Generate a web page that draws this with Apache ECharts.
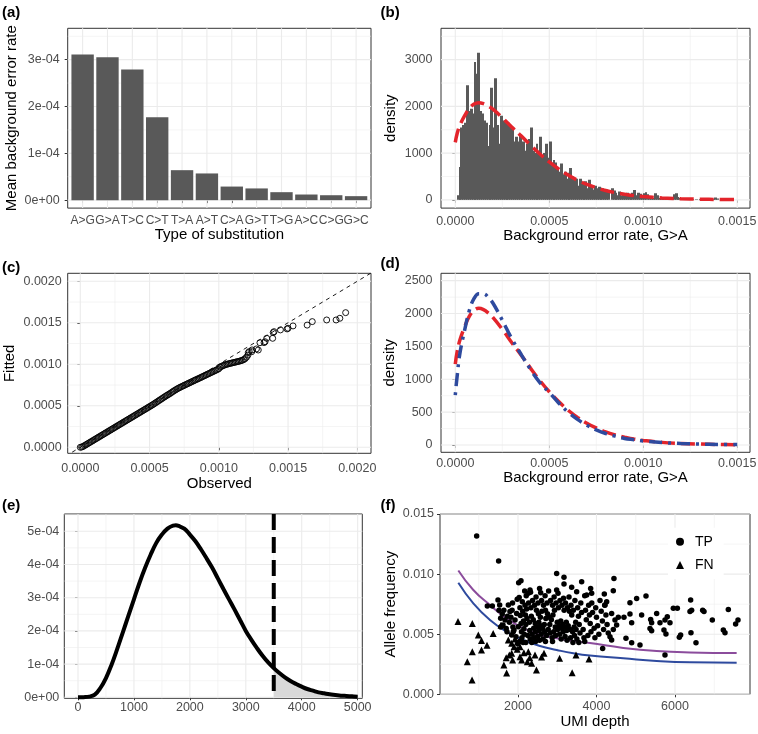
<!DOCTYPE html>
<html><head><meta charset="utf-8">
<script src="https://cdn.jsdelivr.net/npm/echarts@6/dist/echarts.min.js"></script>
<style>html,body{margin:0;padding:0;background:#fff}#c{width:758px;height:734px}</style>
</head><body><div id="c"></div>
<script>
// ---------------- DATA ----------------
// (a) mean background error rate per substitution type
const subTypes = ['A>G','G>A','T>C','C>T','T>A','A>T','C>A','G>T','T>G','A>C','C>G','G>C'];
const subRates = [3.11e-4,3.05e-4,2.79e-4,1.77e-4,0.64e-4,0.57e-4,0.29e-4,0.25e-4,0.17e-4,0.12e-4,0.105e-4,0.085e-4];
const aYTicks = [0,1e-4,2e-4,3e-4];
const aYLabels = ['0e+00','1e-04','2e-04','3e-04'];

// (b) histogram of background error rate G>A (density), bins of width 1e-5 starting at 1e-5
const histStart = 0.00001, histWidth = 0.00001;
const histDensity = [
100,700,1550,1600,1650,2450,1900,1950,1850,2950,
2700,3150,1900,1850,1700,1650,1150,1600,2400,1550,
2600,1600,1200,1800,1700,1700,1300,1650,1600,1500,
1250,1350,1250,1400,1000,1250,1050,1200,1300,1550,
1050,1000,1200,1050,1350,900,1000,1200,900,1250,
750,850,800,700,600,780,550,600,450,580,
680,500,450,450,300,450,350,320,400,250,
430,300,220,300,250,280,200,250,180,220,
150,0,250,200,150,100,180,100,130,90,
150,80,110,150,210,100,150,130,100,140,
160,120,60,80,40,140,100,40,60,30,
50,20,40,0,30,120,140,60,40,20,
0,30,20,0,10,20,0,10,0,20,
0,10,0,20,10,0,20,50,30,0,
10,20,10,20];
// fitted densities (b)(d)
const fitX    = [0,0.00001,0.000025,0.00005,0.000075,0.0001,0.000125,0.00015,0.000175,0.0002,0.00025,0.0003,0.00035,0.0004,0.00045,0.0005,0.00055,0.0006,0.00065,0.0007,0.00075,0.0008,0.00085,0.0009,0.00095,0.001,0.0011,0.0012,0.0013,0.0014,0.0015];
const fitRed  = [1230,1420,1600,1800,1960,2050,2080,2060,2010,1940,1760,1560,1370,1170,980,810,660,530,420,330,260,200,155,120,90,70,40,24,14,8,5];
const fitBlue = [760,1050,1400,1750,2050,2230,2300,2300,2250,2160,1900,1620,1380,1150,950,800,640,500,390,300,230,175,135,100,80,62,38,23,14,9,6];
const bTicksX = [0,0.0005,0.001,0.0015], bLabelsX = ['0.0000','0.0005','0.0010','0.0015'];
const bTicksY = [0,1000,2000,3000], bLabelsY = ['0','1000','2000','3000'];
const dTicksY = [0,500,1000,1500,2000,2500], dLabelsY = ['0','500','1000','1500','2000','2500'];

// (c) observed vs fitted quantiles, in units of 1e-5
const qqObs = [0,1,2,3,4,5,6,7,8,9,10,11,12,13,14,15,16,17,18,19,20,21,22,23,24,25,26,27,28,29,30,31,32,33,34,35,36,37,38,39,40,41,42,43,44,45,46,47,48,49,50,51,52,53,54,55,56,57,58,59,60,61,62,63,64,65,66,67,68,69,70,71,72,73,74,75,76,77,78,79,80,81,82,83,84,85,86,87,88,89,90,91,92,93,94,95,96,97,98,99,100,101,102,103,104,105,106,107,108,109,110,111,112,113,114,115,116,117,118,119,120,121,
121.3,122,123.8,124,127.2,128.5,129.7,132.7,133.4,134.6,138.9,139.3,139.9,144.5,149.3,150,153.6,163.8,167.5,177.9,184.7,187.4,191.6];
const qqFit = [0,0.3,1,2,3,4,5,6,7,8,9,10,11,12,13,14,15,16,17,18,19,20,21,22,23,24,25,26,27,28,29,30,31,32,33,34,35,36,37,38,39,40,41,42,43,44,45,46,47,48,49,50,51,52.1,53.2,54.3,55.4,56.5,57.6,58.7,59.8,60.9,62,63,64,65,66.2,67.3,68.4,69.4,70.4,71.3,72.2,73,73.8,74.6,75.4,76.2,77,77.8,78.6,79.4,80.2,81,81.8,82.5,83.3,84.1,84.9,85.7,86.5,87.3,88.1,88.9,89.7,90.5,91.3,92.1,92.9,93.7,94.6,96.5,97.5,98.3,99,99.6,100.1,100.6,101,101.4,101.8,102.2,102.6,103,103.4,103.8,104.3,104.9,105.6,106.8,108.5,111,
114,115.3,115.2,117.3,118.5,117.2,126,126.1,127.2,131.3,131.3,138.2,139.3,141.4,142.6,143.4,146.2,147.2,151.4,153.4,153.4,155.4,162.2];
const qqUnit = 1e-5;
const cTicks = [0,0.0005,0.001,0.0015,0.002], cLabels = ['0.0000','0.0005','0.0010','0.0015','0.0020'];

// (e) density curve, threshold at 3500 (density in units of 1e-4)
const eX = [0,100,200,300,400,500,600,700,800,900,1000,1100,1200,1300,1400,1500,1600,1700,1750,1800,1900,2000,2100,2200,2300,2400,2500,2600,2700,2800,2900,3000,3100,3200,3300,3400,3500,3600,3700,3800,3900,4000,4100,4200,4300,4400,4500,4600,4700,4800,4900,5000];
const eY = [0,0.005,0.02,0.08,0.28,0.58,0.98,1.45,1.95,2.45,2.95,3.45,3.9,4.3,4.65,4.9,5.08,5.17,5.18,5.16,5.08,4.9,4.7,4.45,4.18,3.9,3.58,3.26,2.95,2.64,2.32,2.0,1.73,1.48,1.25,1.05,0.88,0.73,0.6,0.49,0.4,0.32,0.25,0.2,0.15,0.12,0.09,0.07,0.05,0.04,0.03,0.02];
const eUnit = 1e-4;
const eCut = 3500;
const eTicksX = [0,1000,2000,3000,4000,5000], eLabelsX = ['0','1000','2000','3000','4000','5000'];
const eTicksY = [0,1e-4,2e-4,3e-4,4e-4,5e-4], eLabelsY = ['0e+00','1e-04','2e-04','3e-04','4e-04','5e-04'];

// (f) UMI depth vs allele frequency
const tpPoints = [
[947,0.01317],[1507,0.01109],[2985,0.01006],[3172,0.00973],[3172,0.00917],[3622,0.00937],[4445,0.00964],[2076,0.00945],[2017,0.00928],[3851,0.00881],[3877,0.0084],[2306,0.00868],[2578,0.00845],[2263,0.0084],[2985,0.00868],[3367,0.0089],[3495,0.00854],[3750,0.00826],[4428,0.00862],[4199,0.00835],
[1219,0.00734],[1346,0.00734],[1490,0.00784],[1533,0.00743],[1516,0.0070],[1600,0.00668],[1558,0.00632],[1669,0.00618],[1618,0.00577],[1560,0.0056],[1700,0.00548],[1754,0.00743],[1796,0.00688],[1730,0.0065],[1780,0.006],[1820,0.0064],[1850,0.007],[1870,0.0056],[1880,0.0052],[1860,0.0076],[1640,0.007],[1720,0.0052],
[1924,0.00618],[1949,0.00479],[1966,0.00673],[1980,0.0079],[2008,0.00563],[1898,0.00535],[1839,0.00493],[2030,0.00805],[2050,0.0072],[2060,0.00655],[2080,0.0059],[2090,0.0052],[2100,0.0047],[2110,0.0077],[2120,0.0069],[2140,0.0061],[2150,0.00545],[2160,0.005],[2170,0.0086],[2180,0.0074],[2190,0.0066],[2200,0.0058],[2200,0.0043],[2130,0.0043],[2040,0.0044],[1990,0.0042],
[2210,0.0082],[2220,0.0071],[2230,0.0063],[2250,0.0049],[2270,0.0076],[2290,0.006],[2300,0.0053],[2310,0.0046],[2320,0.0085],[2330,0.0072],[2340,0.0065],[2360,0.005],[2370,0.0078],[2390,0.0062],[2400,0.0055],[2410,0.0047],[2420,0.0074],[2440,0.0059],[2450,0.0052],[2460,0.0081],[2470,0.007],[2490,0.0056],[2500,0.0048],[2350,0.0043],[2450,0.0044],
[2510,0.0076],[2520,0.0067],[2530,0.006],[2540,0.0053],[2550,0.0088],[2570,0.0064],[2580,0.0057],[2590,0.005],[2600,0.0078],[2610,0.0069],[2630,0.0055],[2640,0.0046],[2650,0.0074],[2670,0.0058],[2680,0.0052],[2690,0.0082],[2700,0.007],[2710,0.0063],[2730,0.0049],[2740,0.0076],[2750,0.0067],[2770,0.0054],[2780,0.0086],[2800,0.0064],[2550,0.0045],[2700,0.0044],
[2810,0.0058],[2820,0.0051],[2830,0.0078],[2850,0.0062],[2870,0.0047],[2880,0.0074],[2890,0.0066],[2910,0.0052],[2920,0.0081],[2930,0.007],[2950,0.0056],[2960,0.0049],[2970,0.0076],[3000,0.006],[3010,0.0054],[3020,0.0084],[3030,0.0072],[3050,0.0057],[3060,0.005],[3070,0.0078],[3090,0.0061],[3100,0.0046],[2880,0.0044],
[3110,0.0055],[3120,0.0074],[3140,0.0058],[3150,0.0052],[3160,0.008],[3175,0.007],[3190,0.0056],[3200,0.0048],[3210,0.0076],[3230,0.006],[3240,0.0053],[3250,0.0045],[3260,0.0072],[3280,0.0057],[3300,0.0081],[3310,0.0069],[3330,0.0054],[3340,0.0047],[3350,0.0074],[3370,0.0066],[3390,0.0052],[3400,0.0043],
[3410,0.007],[3430,0.0056],[3440,0.0049],[3450,0.0078],[3470,0.006],[3480,0.0054],[3500,0.0046],[3520,0.0072],[3540,0.0065],[3560,0.0058],[3580,0.0051],[3600,0.0076],[3620,0.0068],[3660,0.0054],[3680,0.0047],[3700,0.0082],[3720,0.007],[3740,0.0062],[3780,0.0049],[3800,0.0074],[3550,0.0043],[3700,0.0044],
[3820,0.0066],[3840,0.0059],[3860,0.0052],[3880,0.0076],[3900,0.0068],[3940,0.0055],[3960,0.0047],[3980,0.0072],[4000,0.0064],[4030,0.0057],[4060,0.005],[4090,0.0078],[4120,0.0069],[4150,0.0061],[4157,0.00382],[4180,0.0054],[4210,0.0074],[4240,0.0066],[4259,0.00771],[4270,0.0058],[4300,0.0051],[4216,0.00743],
[4344,0.00479],[4386,0.00452],[4386,0.00673],[4428,0.0054],[4471,0.00618],[4513,0.00576],[4556,0.0064],[4700,0.0064],[4751,0.00466],[4853,0.00668],[4853,0.00762],[4896,0.00595],[4896,0.00429],[5023,0.00798],[5108,0.0041],[5150,0.00659],[5261,0.00818],
[5363,0.00548],[5380,0.00623],[5405,0.00595],[5405,0.00529],[5533,0.00673],[5618,0.00595],[5719,0.00535],[5745,0.00618],[5745,0.00326],[5770,0.00502],[5804,0.00645],[5872,0.00595],[5957,0.00715],[6060,0.00715],[6110,0.00474],[6144,0.00493],[6382,0.00688],[6399,0.00784],[6407,0.00513],[6424,0.0070],[6535,0.00429],[6705,0.0070],[6739,0.00688],[6951,0.00618],[7231,0.00535],[7274,0.00513],[7359,0.00706],[7545,0.00585],[7605,0.00618]
];
const fnPoints = [
[471,0.00605],[836,0.00588],[989,0.00494],[1070,0.00448],[1210,0.00408],[1070,0.00369],[836,0.00355],[709,0.00271],[830,0.00119],[1368,0.00505],[1567,0.00576],[1754,0.00452],[1839,0.00424],[1924,0.0046],[1640,0.00244],[1711,0.00178],[1779,0.00327],[1864,0.00286],[2051,0.00313],[2093,0.00286],[2238,0.00271],[2348,0.00258],[2470,0.00202],[2433,0.00327],[2662,0.00341],[3060,0.00299],[3380,0.0018],[3478,0.00327],[3809,0.00293],[2051,0.00396],[1839,0.00341],[2263,0.00355],[1980,0.00375],[2150,0.00345],[1700,0.00305],[1900,0.00395],[2300,0.00305],[2600,0.0031]
];
const curveX      = [480,862,1287,1711,2136,2561,2985,3410,3834,4683,5533,6382,7571];
const curvePurple = [0.0103,0.00868,0.00743,0.00632,0.00549,0.00493,0.00466,0.00443,0.00426,0.00386,0.0036,0.00348,0.00343];
const curveBlue   = [0.00928,0.00757,0.00618,0.00521,0.00452,0.00402,0.00369,0.00341,0.00322,0.00299,0.00277,0.00266,0.00263];
const fTicksX = [2000,4000,6000], fLabelsX = ['2000','4000','6000'];
const fTicksY = [0,0.005,0.01,0.015], fLabelsY = ['0.000','0.005','0.010','0.015'];

// ---------------- CHART ----------------
const FONT = '"Liberation Sans", Arial, Helvetica, sans-serif';
const TICK_FS = 12.5, TITLE_FS = 15;
const grids = [
  {left:67.7, top:28.3, width:303.3, height:179.8},
  {left:441,  top:28.3, width:309,   height:179.8},
  {left:67.7, top:273.3,width:303.3, height:180},
  {left:441,  top:273.3,width:309,   height:179},
  {left:64.3, top:514,  width:298,   height:184.3},
  {left:440,  top:514,  width:310,   height:180.3}
];
const ranges = {
  ax:[0.4,12.6], ay:[-0.000017,0.000367],
  bx:[-0.000076,0.001568], by:[-177,3671],
  cx:[-0.000091,0.002099], cy:[-0.0000723,0.002096],
  dx:[-0.000076,0.001568], dy:[-111,2612],
  ex:[-245,5083], ey:[-0.000003,0.000552],
  fx:[13,7911], fy:[0,0.015]
};
function fmt(ticks, labels, span){
  return v => { const i = ticks.findIndex(t => Math.abs(t - v) < span*1e-7); return i >= 0 ? labels[i] : ''; };
}
function axis(gi, r, ticks, labels, o){
  o = o || {};
  return {
    type:'value', gridIndex:gi, min:r[0], max:r[1],
    axisLine:{show:false}, splitLine:{show:false}, minorSplitLine:{show:false},
    axisTick:{show:true, inside:false, length:3, lineStyle:{color:'#333333', width:1}, customValues:ticks},
    axisLabel:{customValues:ticks, formatter:fmt(ticks, labels, r[1]-r[0]), color:'#4D4D4D', fontSize:o.fs||TICK_FS, fontFamily:FONT, margin:o.margin,
      showMinLabel:true, showMaxLabel:true, hideOverlap:false},
    name:o.name||'', nameLocation:'middle', nameGap:o.gap||0,
    nameTextStyle:{fontSize:TITLE_FS, color:'#000', fontFamily:FONT}
  };
}
function gridLines(gi, xMaj, xMin, yMaj, yMin){
  const data = [];
  xMaj.forEach(v => data.push([0, v, 1])); xMin.forEach(v => data.push([0, v, 0]));
  yMaj.forEach(v => data.push([1, v, 1])); yMin.forEach(v => data.push([1, v, 0]));
  return {
    type:'custom', xAxisIndex:gi, yAxisIndex:gi, z:1, silent:true, data:data,
    encode:{x:-1, y:-1},
    renderItem:(params, api) => {
      const cs = params.coordSys;
      const dim = api.value(0), v = api.value(1), major = api.value(2);
      let shape;
      if (dim === 0) {
        const x = api.coord([v, ranges.fy[0]])[0];
        shape = {x1:x, y1:cs.y, x2:x, y2:cs.y+cs.height};
      } else {
        const y = api.coord([ranges.fx[0], v])[1];
        shape = {x1:cs.x, y1:y, x2:cs.x+cs.width, y2:y};
      }
      return {type:'line', shape, style:{stroke:'#EBEBEB', lineWidth: major ? 1.1 : 0.55}};
    }
  };
}
const aX = subTypes.map((_, i) => i + 1);

const xAxes = [
  axis(0, ranges.ax, aX, subTypes, {fs:12, margin:6.5, name:'Type of substitution', gap:19}),
  axis(1, ranges.bx, bTicksX, bLabelsX, {margin:6.5, name:'Background error rate, G>A', gap:19}),
  axis(2, ranges.cx, cTicks, cLabels, {margin:9, name:'Observed', gap:22.5}),
  axis(3, ranges.dx, bTicksX, bLabelsX, {margin:4.5, name:'Background error rate, G>A', gap:15}),
  axis(4, ranges.ex, eTicksX, eLabelsX, {margin:3}),
  axis(5, ranges.fx, fTicksX, fLabelsX, {margin:6, name:'UMI depth', gap:20.5})
];
const yAxes = [
  axis(0, ranges.ay, aYTicks, aYLabels, {margin:8, name:'Mean background error rate', gap:48}),
  axis(1, ranges.by, bTicksY, bLabelsY, {margin:8.5, name:'density', gap:43}),
  axis(2, ranges.cy, cTicks, cLabels, {margin:6, name:'Fitted', gap:50}),
  axis(3, ranges.dy, dTicksY, dLabelsY, {margin:8.5, name:'density', gap:44}),
  axis(4, ranges.ey, eTicksY, eLabelsY, {margin:5}),
  axis(5, ranges.fy, fTicksY, fLabelsY, {margin:6, name:'Allele frequency', gap:39})
];

const barW = 0.9 * grids[0].width / (ranges.ax[1] - ranges.ax[0]);
const pairs = (xs, ys, k) => xs.map((x, i) => [x, ys[i] * (k || 1)]);
const eTailX = eX.filter(x => x >= eCut);
const eTailY = eY.filter((_, i) => eX[i] >= eCut);

const series = [
  // grid lines
  gridLines(0, aX, [], aYTicks, [0.5e-4,1.5e-4,2.5e-4,3.5e-4]),
  gridLines(1, bTicksX, [0.00025,0.00075,0.00125], bTicksY, [500,1500,2500,3500]),
  gridLines(2, cTicks, [0.00025,0.00075,0.00125,0.00175], cTicks, [0.00025,0.00075,0.00125,0.00175]),
  gridLines(3, bTicksX, [0.00025,0.00075,0.00125], dTicksY, [250,750,1250,1750,2250]),
  gridLines(4, eTicksX, [500,1500,2500,3500,4500], eTicksY, [0.5e-4,1.5e-4,2.5e-4,3.5e-4,4.5e-4,5.5e-4]),
  gridLines(5, fTicksX, [1000,3000,5000,7000], fTicksY, [0.0025,0.0075,0.0125]),
  // (a)
  {type:'bar', xAxisIndex:0, yAxisIndex:0, z:2, barWidth:barW, data:pairs(aX, subRates),
   itemStyle:{color:'#595959'}},
  // (b)
  {type:'custom', xAxisIndex:1, yAxisIndex:1, z:2, clip:true,
   data: histDensity.map((c, i) => [histStart + i*histWidth, histStart + (i+1)*histWidth, c]),
   encode:{x:[0,1], y:2},
   renderItem:(params, api) => {
     const p0 = api.coord([api.value(0), api.value(2)]);
     const p1 = api.coord([api.value(1), 0]);
     return {type:'rect', shape:{x:Math.floor(p0[0]), y:p0[1], width:Math.ceil(p1[0])-Math.floor(p0[0]), height:p1[1]-p0[1]},
       style:{fill:'#595959'}};
   }},
  {type:'line', xAxisIndex:1, yAxisIndex:1, z:3, data:pairs(fitX, fitRed), smooth:0.4, showSymbol:false,
   lineStyle:{color:'#E3242B', width:3.5, type:[14,6]}},
  // (c)
  {type:'line', xAxisIndex:2, yAxisIndex:2, z:2, clip:true, data:[[-0.001,-0.001],[0.003,0.003]], showSymbol:false,
   lineStyle:{color:'#000', width:0.9, type:[4,4]}},
  {type:'scatter', xAxisIndex:2, yAxisIndex:2, z:3, symbol:'circle', symbolSize:6,
   data: qqObs.map((o, i) => [o*qqUnit, qqFit[i]*qqUnit]),
   itemStyle:{color:'rgba(0,0,0,0)', borderColor:'#000', borderWidth:0.9, opacity:1}},
  // (d)
  {type:'line', xAxisIndex:3, yAxisIndex:3, z:3, data:pairs(fitX, fitRed), smooth:0.4, showSymbol:false,
   lineStyle:{color:'#E3242B', width:3.5, type:[14,6]}},
  {type:'line', xAxisIndex:3, yAxisIndex:3, z:4, data:pairs(fitX, fitBlue), smooth:0.4, showSymbol:false,
   lineStyle:{color:'#2E4A9E', width:3.5, type:[3,6,13,6]}},
  // (e)
  {type:'line', xAxisIndex:4, yAxisIndex:4, z:2, data:pairs(eTailX, eTailY, eUnit), smooth:0.4, showSymbol:false,
   lineStyle:{color:'#7F7F7F', width:2}, areaStyle:{color:'#D9D9D9', opacity:1}},
  {type:'line', xAxisIndex:4, yAxisIndex:4, z:3, data:pairs(eX, eY, eUnit), smooth:0.4, showSymbol:false,
   lineStyle:{color:'#000', width:4}},
  {type:'line', xAxisIndex:4, yAxisIndex:4, z:4, clip:true, data:[[eCut, ranges.ey[1]],[eCut, 0]], showSymbol:false,
   lineStyle:{color:'#000', width:4, type:[16,7]}},
  // (f)
  {type:'line', xAxisIndex:5, yAxisIndex:5, z:2, data:pairs(curveX, curvePurple), smooth:0.5, showSymbol:false,
   lineStyle:{color:'#8B4C9C', width:2}},
  {type:'line', xAxisIndex:5, yAxisIndex:5, z:2, data:pairs(curveX, curveBlue), smooth:0.5, showSymbol:false,
   lineStyle:{color:'#2E4A9E', width:2}},
  {name:'TP', type:'scatter', xAxisIndex:5, yAxisIndex:5, z:3, symbol:'circle', symbolSize:5.5, data:tpPoints,
   itemStyle:{color:'#000', opacity:1}},
  {name:'FN', type:'scatter', xAxisIndex:5, yAxisIndex:5, z:3, symbol:'triangle', symbolSize:7, data:fnPoints,
   itemStyle:{color:'#000', opacity:1}}
];

const letters = [['(a)',2,5],['(b)',380.5,5],['(c)',2,260.5],['(d)',380.5,256.5],['(e)',2,498],['(f)',380.5,498]];

const option = {
  animation:false,
  backgroundColor:'#fff',
  textStyle:{fontFamily:FONT},
  grid: grids.map(g => Object.assign({show:true, borderColor:'#333333', borderWidth:1, backgroundColor:'#fff', containLabel:false, outerBoundsMode:'none'}, g)),
  xAxis:xAxes, yAxis:yAxes, series:series,
  legend:{data:['TP','FN'], orient:'vertical', left:668, top:527.7, padding:[6,10,6,8], itemGap:7.3,
    itemWidth:8, itemHeight:8, selectedMode:false, backgroundColor:'#fff',
    textStyle:{fontSize:14, lineHeight:16, color:'#000', fontFamily:FONT, padding:[0,0,0,6]}},
  graphic: letters.map(l => ({type:'text', left:l[1], top:l[2], z:10,
    style:{text:l[0], fill:'#000', font:'bold 15px ' + FONT}}))
};
const chart = echarts.init(document.getElementById('c'), null, {renderer:'canvas'});
chart.setOption(option);
</script></body></html>
